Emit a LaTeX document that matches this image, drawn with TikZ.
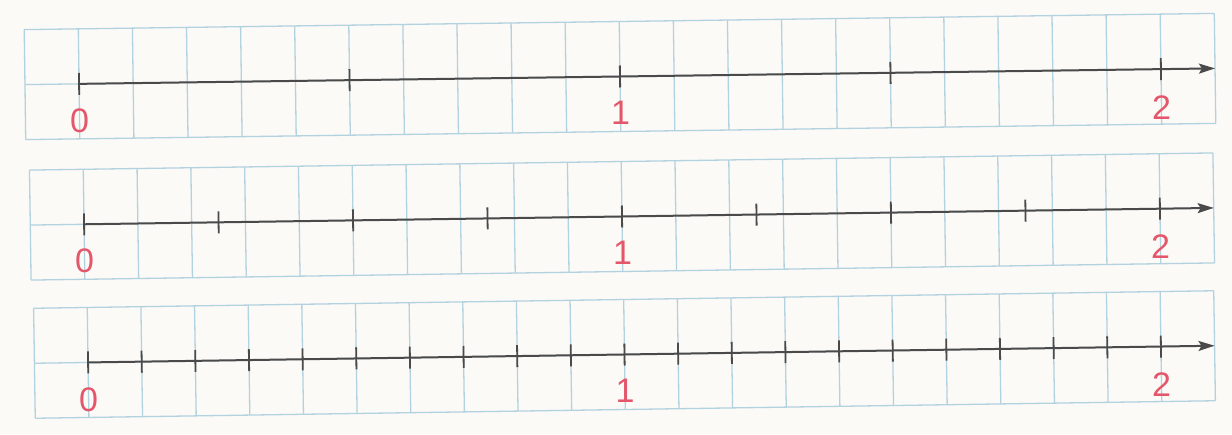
\documentclass[tikz,border=0pt]{standalone}
\usepackage{fontspec}
\setmainfont{Liberation Sans}
\usetikzlibrary{arrows.meta}
\definecolor{paper}{HTML}{FCFAF6}
\definecolor{gridblue}{HTML}{B3D2E0}
\definecolor{axisgray}{HTML}{4A4A4A}
\definecolor{numred}{HTML}{E4566A}
\tikzset{
  gridline/.style={draw=gridblue, line width=1.3pt},
  axisline/.style={draw=axisgray, line width=2pt, -{Stealth[length=16pt,width=10pt,inset=3pt]}},
  tickmark/.style={draw=axisgray, line width=1.8pt},
  numlabel/.style={text=numred, font=\fontsize{34}{34}\selectfont, inner sep=0pt},
}
% #1 id, #2 x of zero, #3 cell width, #4 axis y at the middle, #5 number of parts from 0 to 2, #6 tilt
\newcommand\numberstrip[6]{%
  \begin{scope}[rotate around={#6:({#2+10*#3},#4)}]
    \foreach \i in {0,...,22}
      \draw[gridline] ({#2+(\i-1)*#3},{#4-55}) -- ({#2+(\i-1)*#3},{#4+55});
    \foreach \j in {-55,0,55}
      \draw[gridline] ({#2-#3},{#4+\j}) -- ({#2+21*#3},{#4+\j});
    \coordinate (#1start) at (#2,#4);
    \coordinate (#1end) at ({#2+21*#3},#4);
    \draw[axisline] (#1start) -- (#1end);
    \foreach \k in {0,...,#5}
      \draw[tickmark] ({#2+(\k/#5)*20*#3},{#4-11}) -- ({#2+(\k/#5)*20*#3},{#4+11});
    \node[numlabel] (#1zero) at (#2,{#4+37}) {0};
    \node[numlabel] (#1one) at ({#2+10*#3},{#4+36}) {1};
    \node[numlabel] (#1two) at ({#2+20*#3},{#4+38}) {2};
  \end{scope}
}
\begin{document}
\begin{tikzpicture}[x=1pt,y=-1pt]
  \fill[paper] (0,0) rectangle (1232,434);
  \useasboundingbox (0,0) rectangle (1232,434);
  \numberstrip{a}{79}{54.1}{76.5}{4}{0.78}
  \numberstrip{b}{84}{53.8}{216.5}{8}{0.83}
  \numberstrip{c}{88}{53.65}{354.5}{20}{0.85}
\end{tikzpicture}
\end{document}
